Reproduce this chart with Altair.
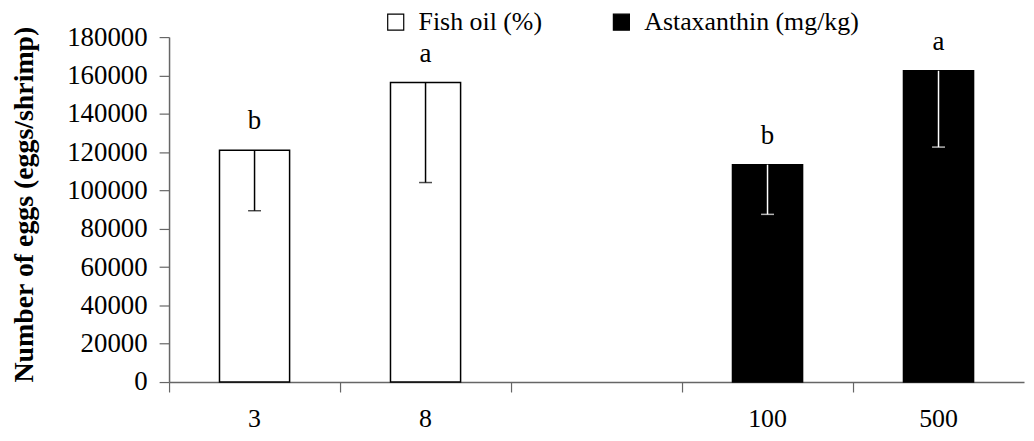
import altair as alt
import pandas as pd

categories = ["3", "8", "gap", "100", "500"]
bar_cats = ["3", "8", "100", "500"]
groups = ["Fish oil (%)", "Fish oil (%)", "Astaxanthin (mg/kg)", "Astaxanthin (mg/kg)"]
means = [121000, 156300, 113400, 162400]
lower = [89400, 104100, 87500, 122600]
letters = ["b", "a", "b", "a"]
err_colors = ["black", "black", "white", "white"]
y_ticks = [0, 20000, 40000, 60000, 80000, 100000, 120000, 140000, 160000, 180000]

df = pd.DataFrame({
    "cat": bar_cats,
    "group": groups,
    "mean": means,
    "low": lower,
    "letter": letters,
    "ecol": err_colors,
})

FONT = "Liberation Serif"

x_scale = alt.Scale(domain=categories, paddingInner=0, paddingOuter=0)
x_axis = alt.Axis(
    title=None,
    labelExpr="datum.label == 'gap' ? '' : datum.label",
    bandPosition=0,
    labelFont=FONT, labelFontSize=26, labelColor="black",
    labelPadding=14, labelAngle=0,
    tickSize=10, tickColor="#666666", domainColor="#666666",
    domainWidth=1.5, tickWidth=1.2,
)
y_scale = alt.Scale(domain=[0, 180000], nice=False)
y_axis = alt.Axis(
    title="Number of eggs (eggs/shrimp)",
    values=y_ticks,
    format="d",
    grid=False,
    labelOverlap=False,
    labelFont=FONT, labelFontSize=27, labelColor="black", labelPadding=12,
    tickSize=10, tickColor="#666666", domainColor="#666666",
    domainWidth=1.5, tickWidth=1.2,
    titleFont=FONT, titleFontSize=28, titleFontWeight="bold", titleColor="black",
    titleX=-145, titleY=168, titleAngle=-90, titleAlign="center", titleBaseline="middle",
)

def xe():
    return alt.X("cat:N", scale=x_scale, axis=x_axis)

def ye(field):
    return alt.Y(field, scale=y_scale, axis=y_axis)

color = alt.Color(
    "group:N",
    scale=alt.Scale(domain=["Fish oil (%)", "Astaxanthin (mg/kg)"], range=["white", "black"]),
    legend=alt.Legend(
        title=None, orient="none", legendX=215, legendY=-28, direction="horizontal",
        symbolType="square", symbolSize=260, symbolStrokeColor="black", symbolStrokeWidth=1.2,
        labelFont=FONT, labelFontSize=26, labelColor="black", labelOffset=10,
        labelLimit=0, columnPadding=66, padding=0,
    ),
)

bars = alt.Chart(df).mark_bar(width={"band": 0.41}, stroke="black", strokeWidth=1.5).encode(
    x=xe(), y=ye("mean:Q"), fill=color,
)
err = alt.Chart(df).mark_rule(strokeWidth=1.5).encode(
    x=xe(), y=ye("mean:Q"), y2="low:Q", color=alt.Color("ecol:N", scale=None),
)
caps = alt.Chart(df).mark_tick(size=13, thickness=1.5, orient="horizontal").encode(
    x=xe(), y=ye("low:Q"), color=alt.Color("ecol:N", scale=None),
)
labels = alt.Chart(df).mark_text(
    font=FONT, fontSize=27, color="black", baseline="middle", dy=-29
).encode(x=xe(), y=ye("mean:Q"), text="letter:N")

chart = alt.layer(bars, err, caps, labels).properties(
    width=860, height=347,
    padding={"left": 162, "top": 28, "right": 2, "bottom": 50},
    autosize="none",
    background="white",
).configure_view(stroke=None)

chart.save("out.html", embed_options={"renderer": "svg", "actions": False})
